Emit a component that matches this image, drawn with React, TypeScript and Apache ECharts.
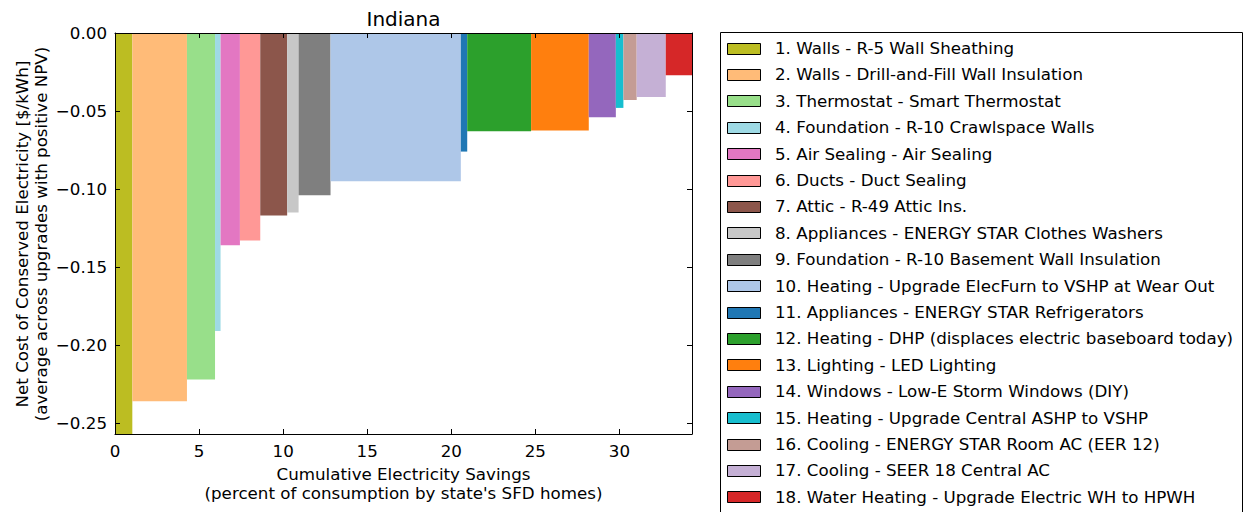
import React, { useEffect, useRef } from "react";
import * as echarts from "echarts";

const chartTitle = "Indiana";
const xTitleLines = ["Cumulative Electricity Savings", "(percent of consumption by state's SFD homes)"];
const yTitleLines = ["Net Cost of Conserved Electricity [$/kWh]", "(average across upgrades with positive NPV)"];

const labels = [
  "1. Walls - R-5 Wall Sheathing",
  "2. Walls - Drill-and-Fill Wall Insulation",
  "3. Thermostat - Smart Thermostat",
  "4. Foundation - R-10 Crawlspace Walls",
  "5. Air Sealing - Air Sealing",
  "6. Ducts - Duct Sealing",
  "7. Attic - R-49 Attic Ins.",
  "8. Appliances - ENERGY STAR Clothes Washers",
  "9. Foundation - R-10 Basement Wall Insulation",
  "10. Heating - Upgrade ElecFurn to VSHP at Wear Out",
  "11. Appliances - ENERGY STAR Refrigerators",
  "12. Heating - DHP (displaces electric baseboard today)",
  "13. Lighting - LED Lighting",
  "14. Windows - Low-E Storm Windows (DIY)",
  "15. Heating - Upgrade Central ASHP to VSHP",
  "16. Cooling - ENERGY STAR Room AC (EER 12)",
  "17. Cooling - SEER 18 Central AC",
  "18. Water Heating - Upgrade Electric WH to HPWH",
];

const colors = [
  "#bcbd22", "#ffbb78", "#98df8a", "#9edae5", "#e377c2", "#ff9896",
  "#8c564b", "#c7c7c7", "#7f7f7f", "#aec7e8", "#1f77b4", "#2ca02c",
  "#ff7f0e", "#9467bd", "#17becf", "#c49c94", "#c5b0d5", "#d62728",
];

// width of each bar: electricity savings (% of consumption)
const savings = [1.03, 3.25, 1.67, 0.33, 1.15, 1.21, 1.6, 0.68, 1.9, 7.75, 0.38, 3.8, 3.43, 1.61, 0.45, 0.79, 1.73, 1.56];
// height of each bar: net cost of conserved electricity ($/kWh)
const costs = [-0.27, -0.236, -0.222, -0.191, -0.136, -0.133, -0.117, -0.115, -0.104, -0.095, -0.076, -0.063, -0.0625, -0.054, -0.048, -0.043, -0.041, -0.027];

const yMin = -0.257;
const yMax = 0;
const xInterval = 5;

const FONT = "DejaVu Sans";
const FS = 16.7;

export default function App() {
  const ref = useRef<HTMLDivElement>(null);

  useEffect(() => {
    if (!ref.current) return;
    const chart = echarts.init(ref.current, null, { renderer: "svg" });

    const data: number[][] = [];
    let cum = 0;
    savings.forEach((w, i) => {
      data.push([cum, cum + w, costs[i], i]);
      cum += w;
    });
    const xMax = cum;

    const gridLeft = 115;
    const gridTop = 33;
    const gridWidth = 577;
    const gridHeight = 401;

    const fmtY = (v: number) => {
      if (Math.abs(v) < 1e-9) return "0.00";
      return (v < 0 ? "\u2212" : "") + Math.abs(v).toFixed(2);
    };

    const axisCommonX = {
      type: "value",
      min: 0,
      max: xMax,
      interval: xInterval,
      splitLine: { show: false },
      axisLine: { show: true, onZero: false, lineStyle: { color: "#000", width: 1 } },
      axisTick: { show: true, inside: true, length: 5, lineStyle: { color: "#000" } },
      z: 5,
    };
    const axisCommonY = {
      type: "value",
      min: yMin,
      max: yMax,
      splitNumber: 5,
      splitLine: { show: false },
      axisLine: { show: true, onZero: false, lineStyle: { color: "#000", width: 1 } },
      axisTick: { show: true, inside: true, length: 5, lineStyle: { color: "#000" } },
      z: 5,
    };

    const rowY0 = 48;
    const rowStep = 26.4;
    const legendGraphics: any[] = [
      {
        type: "rect",
        shape: { x: 720.5, y: 32.5, width: 522, height: 500 },
        style: { fill: "#fff", stroke: "#000", lineWidth: 1 },
        z: 1,
      },
    ];
    labels.forEach((lab, i) => {
      const cy = rowY0 + rowStep * i;
      legendGraphics.push({
        type: "rect",
        shape: { x: 727.5, y: Math.round(cy - 5.5) + 0.5, width: 33, height: 11 },
        style: { fill: colors[i], stroke: "#000", lineWidth: 1 },
        z: 2,
      });
      legendGraphics.push({
        type: "text",
        x: 775,
        y: cy,
        style: {
          text: lab,
          fill: "#000",
          font: `${FS}px '${FONT}'`,
          textAlign: "left",
          textVerticalAlign: "middle",
        },
        z: 2,
      });
    });

    const option: any = {
      animation: false,
      backgroundColor: "#fff",
      textStyle: { fontFamily: FONT },
      grid: { left: gridLeft, top: gridTop, width: gridWidth, height: gridHeight, containLabel: false },
      xAxis: [
        {
          ...axisCommonX,
          position: "bottom",
          axisLabel: { show: true, color: "#000", fontSize: FS, fontFamily: FONT, margin: 8, showMaxLabel: false },
        },
        {
          ...axisCommonX,
          position: "top",
          axisLabel: { show: false },
        },
      ],
      yAxis: [
        {
          ...axisCommonY,
          position: "left",
          axisLabel: {
            show: true,
            color: "#000",
            fontSize: FS,
            fontFamily: FONT,
            margin: 8,
            showMinLabel: false,
            formatter: fmtY,
          },
        },
        {
          ...axisCommonY,
          position: "right",
          axisLabel: { show: false },
        },
      ],
      series: [
        {
          type: "custom",
          xAxisIndex: 0,
          yAxisIndex: 0,
          z: 2,
          encode: { x: [0, 1], y: 2 },
          data,
          renderItem: (params: any, api: any) => {
            const x0 = api.value(0);
            const x1 = api.value(1);
            const v = api.value(2);
            const p0 = api.coord([x0, 0]);
            const p1 = api.coord([x1, v]);
            const cs = params.coordSys;
            const shape = echarts.graphic.clipRectByRect(
              { x: p0[0], y: p0[1], width: p1[0] - p0[0], height: p1[1] - p0[1] },
              { x: cs.x, y: cs.y, width: cs.width, height: cs.height }
            );
            if (!shape) return null;
            return {
              type: "rect",
              shape,
              style: { fill: colors[params.dataIndex], stroke: null },
            };
          },
        },
      ],
      graphic: [
        {
          type: "text",
          x: gridLeft + gridWidth / 2,
          y: 19,
          style: {
            text: chartTitle,
            fill: "#000",
            font: `20px '${FONT}'`,
            textAlign: "center",
            textVerticalAlign: "middle",
          },
        },
        {
          type: "text",
          x: gridLeft + gridWidth / 2,
          y: 473.5,
          style: {
            text: xTitleLines[0],
            fill: "#000",
            font: `${FS}px '${FONT}'`,
            textAlign: "center",
            textVerticalAlign: "middle",
          },
        },
        {
          type: "text",
          x: gridLeft + gridWidth / 2,
          y: 493,
          style: {
            text: xTitleLines[1],
            fill: "#000",
            font: `${FS}px '${FONT}'`,
            textAlign: "center",
            textVerticalAlign: "middle",
          },
        },
        {
          type: "text",
          x: 22,
          y: 234,
          rotation: Math.PI / 2,
          style: {
            text: yTitleLines[0],
            fill: "#000",
            font: `${FS}px '${FONT}'`,
            textAlign: "center",
            textVerticalAlign: "middle",
          },
        },
        {
          type: "text",
          x: 40.5,
          y: 234,
          rotation: Math.PI / 2,
          style: {
            text: yTitleLines[1],
            fill: "#000",
            font: `${FS}px '${FONT}'`,
            textAlign: "center",
            textVerticalAlign: "middle",
          },
        },
        ...legendGraphics,
      ],
    };

    chart.setOption(option);
    return () => chart.dispose();
  }, []);

  return (
    <div
      ref={ref}
      style={{ position: "absolute", left: 0, top: 0, width: 1245, height: 512, overflow: "hidden" }}
    />
  );
}
